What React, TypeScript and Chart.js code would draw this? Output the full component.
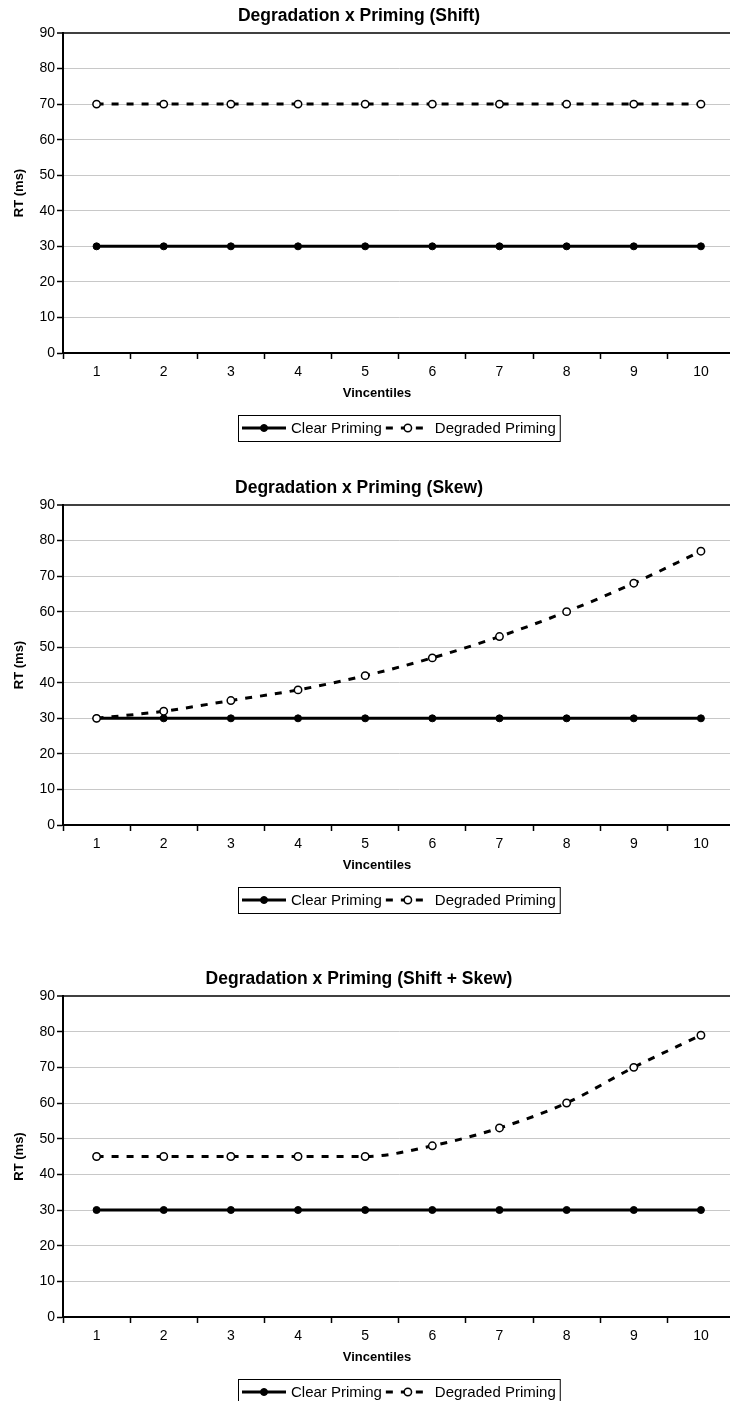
import React, { useEffect, useRef } from "react";
import { Chart, registerables } from "chart.js";

Chart.register(...registerables);

const FONT = '"Liberation Sans", Arial, Helvetica, sans-serif';

const categories = ["1", "2", "3", "4", "5", "6", "7", "8", "9", "10"];
const yMin = 0;
const yMax = 90;
const yStep = 10;

const seriesNames = ["Clear Priming", "Degraded Priming"];
const xTitle = "Vincentiles";
const yTitle = "RT (ms)";

const titleShift = "Degradation x Priming (Shift)";
const titleSkew = "Degradation x Priming (Skew)";
const titleShiftSkew = "Degradation x Priming (Shift + Skew)";

const shiftClear = [30, 30, 30, 30, 30, 30, 30, 30, 30, 30];
const shiftDegraded = [70, 70, 70, 70, 70, 70, 70, 70, 70, 70];

const skewClear = [30, 30, 30, 30, 30, 30, 30, 30, 30, 30];
const skewDegraded = [30, 32, 35, 38, 42, 47, 53, 60, 68, 77];

const shiftSkewClear = [30, 30, 30, 30, 30, 30, 30, 30, 30, 30];
const shiftSkewDegraded = [45, 45, 45, 45, 45, 48, 53, 60, 70, 79];

type Panel = {
  title: string;
  clear: number[];
  degraded: number[];
  top: number;
  height: number;
  areaTop: number;
  areaBottom: number;
};

const panels: Panel[] = [
  { title: titleShift, clear: shiftClear, degraded: shiftDegraded, top: 0, height: 470, areaTop: 33, areaBottom: 353 },
  { title: titleSkew, clear: skewClear, degraded: skewDegraded, top: 470, height: 490, areaTop: 35, areaBottom: 355 },
  { title: titleShiftSkew, clear: shiftSkewClear, degraded: shiftSkewDegraded, top: 960, height: 441, areaTop: 36, areaBottom: 357 },
];

const CANVAS_W = 740;
const Y_AXIS_W = 63;
const X_AXIS_H = 24;

const overlayPlugin = {
  id: "overlay",
  afterDraw(chart: any, _args: any, opts: any) {
    const { ctx, chartArea } = chart;
    ctx.save();
    ctx.fillStyle = "#000";
    ctx.textBaseline = "middle";
    ctx.textAlign = "center";
    // chart title
    ctx.font = `bold 17.5px ${FONT}`;
    ctx.fillText(opts.title, 359, chartArea.top - 17);
    // x axis title
    ctx.font = `bold 13px ${FONT}`;
    ctx.fillText(opts.xTitle, 377, chartArea.bottom + 40);

    // legend
    ctx.font = `15px ${FONT}`;
    const ds = chart.data.datasets;
    const sampleW = 44;
    const padL = 4;
    const gapS = 5;
    const gapItem = 4;
    const widths = ds.map((d: any) => ctx.measureText(d.label).width);
    let total = padL;
    ds.forEach((_d: any, i: number) => {
      total += sampleW + gapS + widths[i] + (i < ds.length - 1 ? gapItem : 0);
    });
    total += padL;
    const boxH = 26;
    const cx = (chartArea.left + chartArea.right) / 2;
    const cy = chartArea.bottom + 75;
    const bx = Math.round(cx - total / 2);
    const by = Math.round(cy - boxH / 2);
    ctx.lineWidth = 1;
    ctx.strokeStyle = "#000";
    ctx.setLineDash([]);
    ctx.strokeRect(bx + 0.5, by + 0.5, total, boxH);
    let x = bx + padL;
    ds.forEach((d: any, i: number) => {
      ctx.save();
      ctx.strokeStyle = d.borderColor;
      ctx.lineWidth = d.borderWidth;
      ctx.setLineDash(d.borderDash || []);
      ctx.beginPath();
      ctx.moveTo(x, cy);
      ctx.lineTo(x + sampleW, cy);
      ctx.stroke();
      ctx.setLineDash([]);
      ctx.beginPath();
      ctx.arc(x + sampleW / 2, cy, d.pointRadius, 0, Math.PI * 2);
      ctx.fillStyle = d.pointBackgroundColor;
      ctx.fill();
      ctx.lineWidth = d.pointBorderWidth;
      ctx.strokeStyle = d.pointBorderColor;
      ctx.stroke();
      ctx.restore();
      x += sampleW + gapS;
      ctx.textAlign = "left";
      ctx.fillStyle = "#000";
      ctx.fillText(d.label, x, cy + 1);
      x += widths[i] + gapItem;
    });
    ctx.restore();
  },
};

function ChartPanel({ panel }: { panel: Panel }) {
  const ref = useRef<HTMLCanvasElement | null>(null);
  useEffect(() => {
    if (!ref.current) return;
    const chart = new Chart(ref.current, {
      type: "line",
      data: {
        labels: categories,
        datasets: [
          {
            label: seriesNames[0],
            data: panel.clear,
            borderColor: "#000",
            borderWidth: 3,
            pointRadius: 3.5,
            pointBackgroundColor: "#000",
            pointBorderColor: "#000",
            pointBorderWidth: 1,
            fill: false,
            order: 1,
          },
          {
            label: seriesNames[1],
            data: panel.degraded,
            borderColor: "#000",
            borderWidth: 3,
            borderDash: [7, 8],
            cubicInterpolationMode: "monotone",
            pointRadius: 3.7,
            pointBackgroundColor: "#fff",
            pointBorderColor: "#000",
            pointBorderWidth: 1.5,
            fill: false,
            order: 0,
          },
        ],
      },
      options: {
        responsive: false,
        animation: false,
        devicePixelRatio: 1,
        layout: {
          padding: {
            left: 0,
            right: CANVAS_W - 737,
            top: panel.areaTop,
            bottom: panel.height - panel.areaBottom - X_AXIS_H,
          },
        },
        plugins: {
          legend: { display: false },
          title: { display: false },
          tooltip: { enabled: false },
          overlay: { title: panel.title, xTitle: xTitle },
        } as any,
        scales: {
          x: {
            type: "category",
            offset: true,
            afterFit: (s: any) => {
              s.height = X_AXIS_H;
            },
            grid: {
              display: true,
              offset: true,
              drawOnChartArea: false,
              drawTicks: true,
              tickLength: 6,
              tickColor: "#000",
              tickWidth: 1.5,
            },
            border: { display: true, color: "#000", width: 2 },
            ticks: {
              color: "#000",
              font: { family: FONT, size: 14 },
              padding: 5,
              maxRotation: 0,
            },
          },
          y: {
            min: yMin,
            max: yMax,
            afterFit: (s: any) => {
              s.width = Y_AXIS_W;
            },
            ticks: {
              stepSize: yStep,
              color: "#000",
              font: { family: FONT, size: 14 },
              padding: 2,
            },
            grid: {
              color: (c: any) => (c.tick && c.tick.value === yMax ? "#404040" : "#c8c8c8"),
              lineWidth: (c: any) => (c.tick && c.tick.value === yMax ? 2 : 1),
              tickLength: 6,
              tickColor: "#000",
              tickWidth: 1.5,
            },
            border: { display: true, color: "#000", width: 2 },
            title: {
              display: true,
              text: yTitle,
              color: "#000",
              font: { family: FONT, size: 13, weight: "bold" },
              padding: { top: 12, bottom: 0 },
            },
          },
        },
      } as any,
      plugins: [overlayPlugin],
    });
    return () => chart.destroy();
  }, [panel]);
  return (
    <canvas
      ref={ref}
      width={CANVAS_W}
      height={panel.height}
      style={{ position: "absolute", left: 0, top: panel.top, width: CANVAS_W, height: panel.height, display: "block" }}
    />
  );
}

export default function App() {
  return (
    <div
      style={{
        position: "absolute",
        left: 0,
        top: 0,
        width: 730,
        height: 1401,
        overflow: "hidden",
        background: "#fff",
      }}
    >
      {panels.map((p, i) => (
        <ChartPanel key={i} panel={p} />
      ))}
    </div>
  );
}
